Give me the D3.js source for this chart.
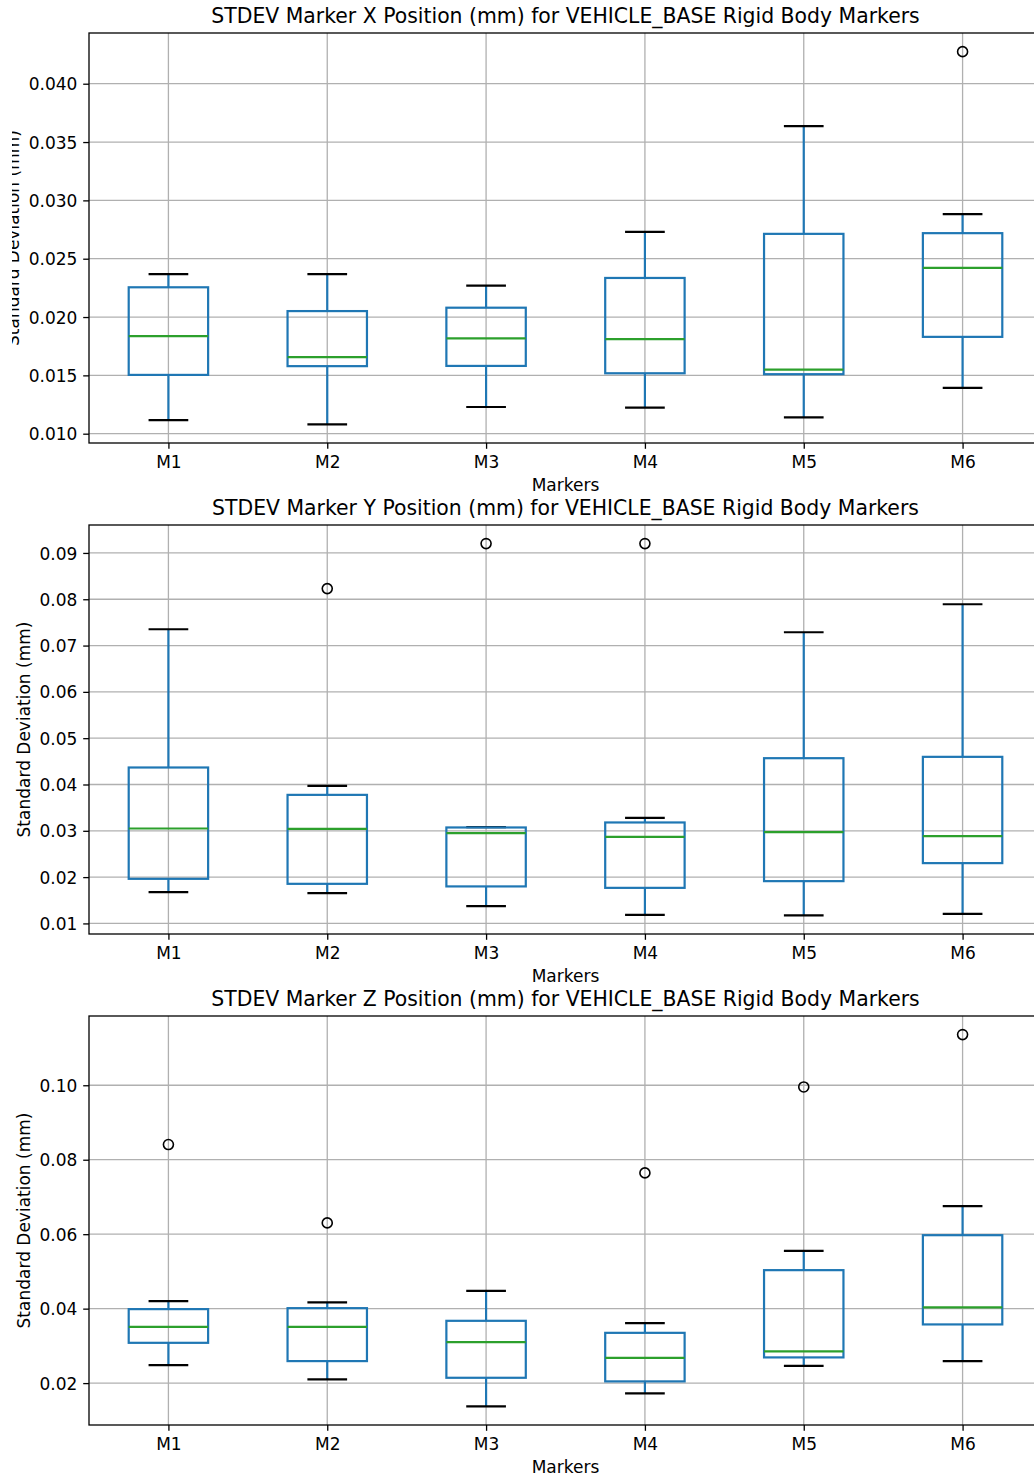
<!DOCTYPE html>
<html>
<head>
<meta charset="utf-8">
<script src="https://cdn.jsdelivr.net/npm/d3@7"></script>
<style>
  html, body { margin: 0; padding: 0; background: #fff; }
  svg { display: block; font-family: "DejaVu Sans", sans-serif; }
</style>
</head>
<body>
<svg id="chart" width="1034" height="1479"></svg>
<script>
// ---- Data ----
const markers = ["M1", "M2", "M3", "M4", "M5", "M6"];

// X position panel
const xWhiskerLow  = [0.01117, 0.01080, 0.01229, 0.01223, 0.01140, 0.01392];
const xQ1          = [0.01504, 0.01579, 0.01581, 0.01518, 0.01510, 0.01830];
const xMedian      = [0.01836, 0.01656, 0.01817, 0.01811, 0.01550, 0.02421];
const xQ3          = [0.02255, 0.02051, 0.02080, 0.02335, 0.02713, 0.02719];
const xWhiskerHigh = [0.02367, 0.02367, 0.02269, 0.02730, 0.03636, 0.02883];
const xOutliers    = [[], [], [], [], [], [0.04275]];
const xTicks       = [0.010, 0.015, 0.020, 0.025, 0.030, 0.035, 0.040];

// Y position panel
const yWhiskerLow  = [0.01676, 0.01654, 0.01373, 0.01186, 0.01173, 0.01207];
const yQ1          = [0.01963, 0.01855, 0.01799, 0.01768, 0.01913, 0.02302];
const yMedian      = [0.03050, 0.03042, 0.02949, 0.02869, 0.02971, 0.02884];
const yQ3          = [0.04367, 0.03776, 0.03072, 0.03180, 0.04568, 0.04597];
const yWhiskerHigh = [0.07352, 0.03970, 0.03079, 0.03280, 0.07288, 0.07892];
const yOutliers    = [[], [0.08230], [0.09202], [0.09202], [], []];
const yTicks       = [0.01, 0.02, 0.03, 0.04, 0.05, 0.06, 0.07, 0.08, 0.09];

// Z position panel
const zWhiskerLow  = [0.02483, 0.02100, 0.01374, 0.01723, 0.02464, 0.02591];
const zQ1          = [0.03082, 0.02591, 0.02143, 0.02046, 0.02690, 0.03576];
const zMedian      = [0.03512, 0.03512, 0.03100, 0.02679, 0.02851, 0.04032];
const zQ3          = [0.03987, 0.04013, 0.03673, 0.03350, 0.05034, 0.05973];
const zWhiskerHigh = [0.04200, 0.04166, 0.04478, 0.03611, 0.05552, 0.06752];
const zOutliers    = [[0.08408], [0.06303], [], [0.07646], [0.09955], [0.11361]];
const zTicks       = [0.02, 0.04, 0.06, 0.08, 0.10];

const titles = [
  "STDEV Marker X Position (mm) for VEHICLE_BASE Rigid Body Markers",
  "STDEV Marker Y Position (mm) for VEHICLE_BASE Rigid Body Markers",
  "STDEV Marker Z Position (mm) for VEHICLE_BASE Rigid Body Markers"
];
const xLabel = "Markers";
const yLabel = "Standard Deviation (mm)";

// ---- Layout ----
const svg = d3.select("#chart");
const left = 89, right = 1042;
const panels = [
  { top: 33,   bottom: 443,  lo: xWhiskerLow, q1: xQ1, med: xMedian, q3: xQ3, hi: xWhiskerHigh, out: xOutliers, ticks: xTicks, fmt: d3.format(".3f"), ylabX: 19, clip: true },
  { top: 525,  bottom: 934,  lo: yWhiskerLow, q1: yQ1, med: yMedian, q3: yQ3, hi: yWhiskerHigh, out: yOutliers, ticks: yTicks, fmt: d3.format(".2f"), ylabX: 29.5, clip: false },
  { top: 1016, bottom: 1425, lo: zWhiskerLow, q1: zQ1, med: zMedian, q3: zQ3, hi: zWhiskerHigh, out: zOutliers, ticks: zTicks, fmt: d3.format(".2f"), ylabX: 29.5, clip: false }
];

const blue = "#1f77b4", green = "#2ca02c", gridC = "#b0b0b0";
const lw = 2.2, fontTick = 17, fontTitle = 20.4, tickLen = 5.8;

const defs = svg.append("defs");
defs.append("clipPath").attr("id", "ylabclip")
  .append("rect").attr("x", 12).attr("y", 0).attr("width", 100).attr("height", 1479);

const x = d3.scaleLinear().domain([0.5, 6.5]).range([left, right]);

panels.forEach((p, pi) => {
  const allVals = [].concat(p.lo, p.hi, ...p.out);
  const mn = d3.min(allVals), mx = d3.max(allVals);
  const pad = (mx - mn) * 0.05;
  const y = d3.scaleLinear().domain([mn - pad, mx + pad]).range([p.bottom, p.top]);
  const g = svg.append("g");

  // grid
  g.selectAll(".vg").data(markers).enter().append("line")
    .attr("x1", (d, i) => x(i + 1)).attr("x2", (d, i) => x(i + 1))
    .attr("y1", p.top).attr("y2", p.bottom)
    .attr("stroke", gridC).attr("stroke-width", 1.3);
  g.selectAll(".hg").data(p.ticks).enter().append("line")
    .attr("x1", left).attr("x2", right)
    .attr("y1", d => y(d)).attr("y2", d => y(d))
    .attr("stroke", gridC).attr("stroke-width", 1.3);

  // axes
  const xa = d3.axisBottom(x).tickValues(markers.map((d, i) => i + 1))
    .tickFormat((d) => markers[d - 1]).tickSizeInner(tickLen).tickSizeOuter(0).tickPadding(tickLen);
  const xg = g.append("g").attr("transform", `translate(0,${p.bottom})`).call(xa);
  const ya = d3.axisLeft(y).tickValues(p.ticks).tickFormat(p.fmt)
    .tickSizeInner(tickLen).tickSizeOuter(0).tickPadding(tickLen);
  const yg = g.append("g").attr("transform", `translate(${left},0)`).call(ya);
  [xg, yg].forEach(a => {
    a.select(".domain").remove();
    a.selectAll(".tick line").attr("stroke", "#000").attr("stroke-width", 1.3);
    a.selectAll(".tick text").attr("fill", "#000").attr("font-size", fontTick)
      .attr("font-family", "DejaVu Sans");
  });
  xg.selectAll(".tick text").attr("dy", null).attr("y", 25.3);
  yg.selectAll(".tick text").attr("dy", "0.36em");

  const data = markers.map((m, i) => ({ i, lo: p.lo[i], q1: p.q1[i], med: p.med[i], q3: p.q3[i], hi: p.hi[i], out: p.out[i] }));
  const bw = x(1.25) - x(1), cw = x(1.125) - x(1);

  const bg = g.append("g");
  // whiskers
  bg.selectAll(".wl").data(data).enter().append("line")
    .attr("x1", d => x(d.i + 1)).attr("x2", d => x(d.i + 1))
    .attr("y1", d => y(d.q1)).attr("y2", d => y(d.lo))
    .attr("stroke", blue).attr("stroke-width", lw);
  bg.selectAll(".wh").data(data).enter().append("line")
    .attr("x1", d => x(d.i + 1)).attr("x2", d => x(d.i + 1))
    .attr("y1", d => y(d.q3)).attr("y2", d => y(d.hi))
    .attr("stroke", blue).attr("stroke-width", lw);
  // caps
  ["lo", "hi"].forEach(k => {
    bg.selectAll(".cap" + k).data(data).enter().append("line")
      .attr("x1", d => x(d.i + 1) - cw).attr("x2", d => x(d.i + 1) + cw)
      .attr("y1", d => y(d[k])).attr("y2", d => y(d[k]))
      .attr("stroke", "#000").attr("stroke-width", lw);
  });
  // boxes
  bg.selectAll(".box").data(data).enter().append("rect")
    .attr("x", d => x(d.i + 1) - bw).attr("width", 2 * bw)
    .attr("y", d => y(d.q3)).attr("height", d => y(d.q1) - y(d.q3))
    .attr("fill", "none").attr("stroke", blue).attr("stroke-width", lw);
  // medians
  bg.selectAll(".med").data(data).enter().append("line")
    .attr("x1", d => x(d.i + 1) - bw).attr("x2", d => x(d.i + 1) + bw)
    .attr("y1", d => y(d.med)).attr("y2", d => y(d.med))
    .attr("stroke", green).attr("stroke-width", lw);
  // fliers
  const fl = [];
  data.forEach(d => d.out.forEach(v => fl.push({ i: d.i, v })));
  bg.selectAll(".fl").data(fl).enter().append("circle")
    .attr("cx", d => x(d.i + 1)).attr("cy", d => y(d.v)).attr("r", 5)
    .attr("fill", "none").attr("stroke", "#000").attr("stroke-width", 1.6);

  // frame (spines)
  g.append("rect").attr("x", left).attr("y", p.top)
    .attr("width", right - left).attr("height", p.bottom - p.top)
    .attr("fill", "none").attr("stroke", "#000").attr("stroke-width", 1.3);

  // title
  g.append("text").attr("x", (left + right) / 2).attr("y", p.top - 9.8)
    .attr("text-anchor", "middle").attr("font-size", fontTitle).attr("fill", "#000")
    .text(titles[pi]);
  // x label
  g.append("text").attr("x", (left + right) / 2).attr("y", p.bottom + 47.5)
    .attr("text-anchor", "middle").attr("font-size", fontTick).attr("fill", "#000")
    .text(xLabel);
  // y label
  const yl = g.append("text")
    .attr("transform", `translate(${p.ylabX},${(p.top + p.bottom) / 2}) rotate(-90)`)
    .attr("text-anchor", "middle").attr("font-size", fontTick).attr("fill", "#000")
    .text(yLabel);
  if (p.clip) {
    const wrap = g.append("g").attr("clip-path", "url(#ylabclip)");
    wrap.node().appendChild(yl.node());
  }
});
</script>
</body>
</html>
